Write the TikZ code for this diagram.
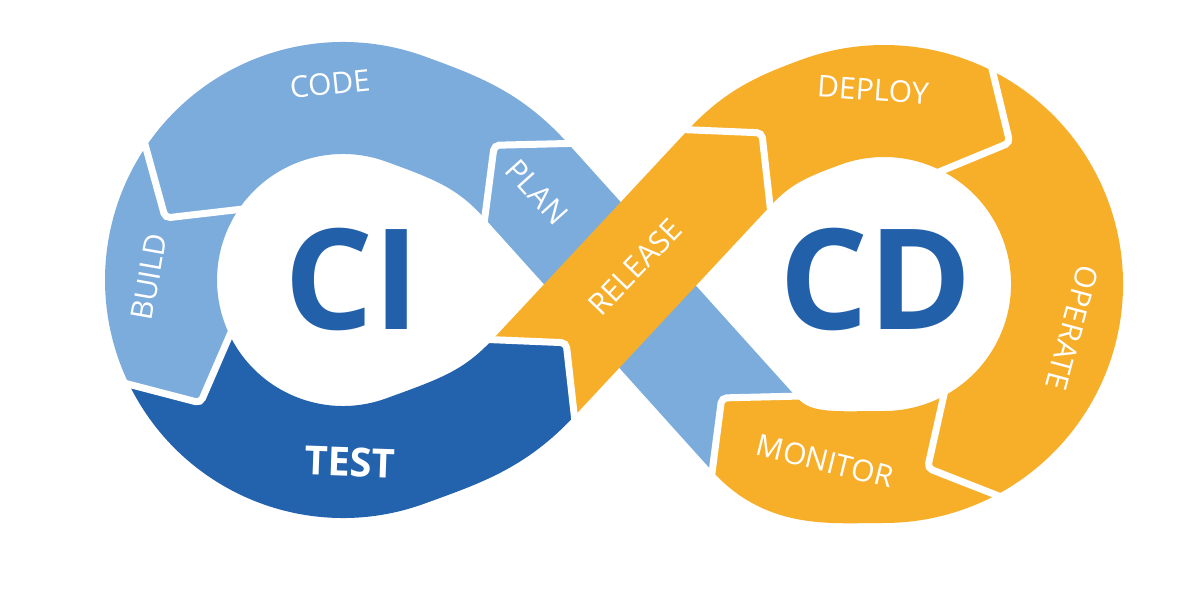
\documentclass[tikz,border=0pt]{standalone}
\usepackage{fontspec}
\setmainfont{Open Sans}
\usetikzlibrary{calc}
\definecolor{lblue}{RGB}{124,172,220}
\definecolor{dblue}{RGB}{35,98,173}
\definecolor{orng}{RGB}{247,175,42}
\definecolor{txtblue}{RGB}{34,96,170}
\newcommand{\chevtip}[3]{%
  \fill[#3] ($(#1)+(#2+90:56)+(#2:-1.5)$) -- ($(#1)+(#2:48)$) -- ($(#1)+(#2-90:56)+(#2:-1.5)$) -- cycle;
  \draw[gapline] ($(#1)+(#2+90:63)+(#2:-6)$) -- ($(#1)+(#2:48)$) -- ($(#1)+(#2-90:63)+(#2:-6)$);
}
\begin{document}
\begin{tikzpicture}[x=1pt,y=1pt,
  seg/.style={line width=112pt, line cap=butt},
  gapline/.style={draw=white, line width=7pt, rounded corners=5pt},
  lbl/.style={text=white, inner sep=0pt, font=\fontsize{30}{30}\selectfont},
  big/.style={text=txtblue, inner sep=0pt, font=\fontsize{140}{140}\selectfont\bfseries},
]
\fill[white] (0,0) rectangle (1200,600);
\useasboundingbox (0,0) rectangle (1200,600);
% crossing and band end points
\coordinate (X) at (620,315);
\coordinate (M0) at ($(X)+(312:200)$);
\coordinate (P1) at ($(X)+(132:140)$);
\coordinate (T1) at ($(X)+(227:127)$);
\coordinate (R1) at ($(X)+(47:160)$);
% left ring
\coordinate (Lc) at (343,320);
\coordinate (J1) at ($(Lc)+(70:182)$);
\coordinate (CB) at ($(Lc)+(146:182)$);
\coordinate (BT) at ($(Lc)+(206:182)$);
% right ring
\coordinate (Rc) at (884,316);
\coordinate (J3) at ($(Rc)+(110:183)$);
\coordinate (DO) at ($(Rc)+(63:183)$);
\coordinate (OM) at ($(Rc)+(-62:183)$);
% ring segments
\draw[seg, lblue] (M0) -- (P1);
\draw[seg, lblue] (P1) to[out=132,in=-20] (J1) arc[start angle=70,end angle=146,radius=182];
\draw[seg, lblue] (CB) arc[start angle=146,end angle=206,radius=182];
\draw[seg, dblue] (BT) arc[start angle=206,end angle=290,radius=182] to[out=20,in=227] (T1);
\draw[seg, orng] (R1) to[out=47,in=200] (J3) arc[start angle=110,end angle=63,radius=183];
\draw[seg, orng] (DO) arc[start angle=63,end angle=-62,radius=183];
\draw[seg, orng] (OM) arc[start angle=-62,end angle=-90,radius=183] to[out=180,in=312] (M0);
\chevtip{P1}{132}{lblue}
\chevtip{CB}{236}{lblue}
\chevtip{BT}{296}{lblue}
\chevtip{DO}{333}{orng}
\chevtip{OM}{208}{orng}
\chevtip{M0}{132}{orng}
\draw[seg, orng] (T1) -- (R1);
\chevtip{T1}{47}{dblue}
\chevtip{R1}{47}{orng}
% labels
\node[lbl, rotate=6] (code) at (330,516) {CODE};
\node[lbl, rotate=80] (build) at (149,323) {BUILD};
\node[lbl, rotate=-2, font=\fontsize{40}{40}\selectfont\bfseries] (test) at (350,138) {TEST};
\node[lbl, rotate=-48] (plan) at (537,408) {PLAN};
\node[lbl, rotate=46] (release) at (635,333) {RELEASE};
\node[lbl, rotate=-4] (deploy) at (873,510) {DEPLOY};
\node[lbl, rotate=-105] (operate) at (1072,272) {OPERATE};
\node[lbl, rotate=-14] (monitor) at (825,139) {MONITOR};
\node[big] (ci) at (352,321) {CI};
\node[big] (cd) at (876,321) {CD};
\end{tikzpicture}
\end{document}
